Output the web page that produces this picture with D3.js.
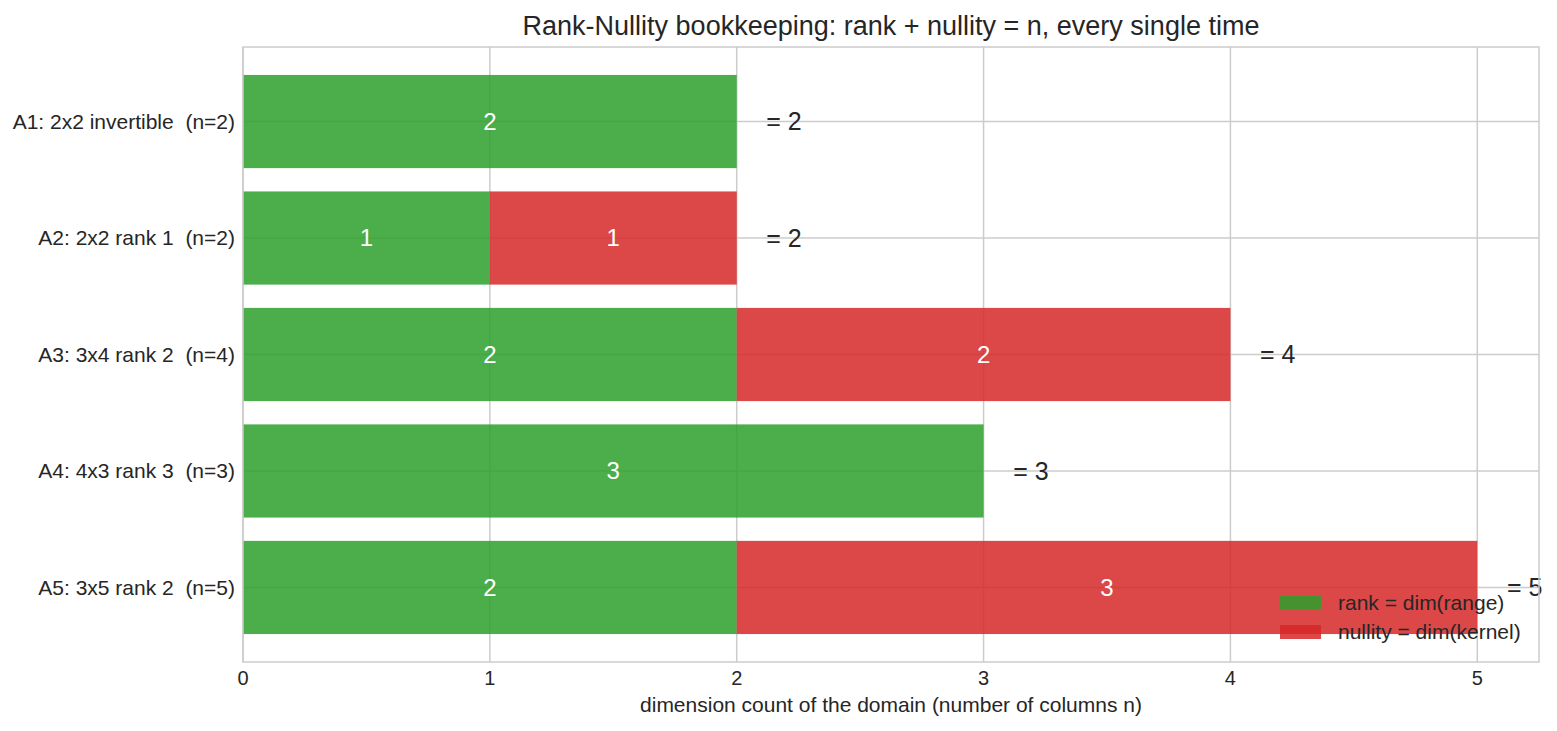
<!DOCTYPE html>
<html>
<head>
<meta charset="utf-8">
<script src="https://cdn.jsdelivr.net/npm/d3@7"></script>
<style>
	body { margin: 0; background: #fff; }
	text { font-family: "Liberation Sans", Arial, sans-serif; fill: #262626; white-space: pre; }
</style>
</head>
<body>
<div id="chart"></div>
<script>
// matrices, rank and nullity
const labels = ["A1: 2x2 invertible  (n=2)", "A2: 2x2 rank 1  (n=2)", "A3: 3x4 rank 2  (n=4)", "A4: 4x3 rank 3  (n=3)", "A5: 3x5 rank 2  (n=5)"];
const ranks = [2, 1, 2, 3, 2];
const nullities = [0, 1, 2, 0, 3];
const xTicks = [0, 1, 2, 3, 4, 5];
const legendNames = ["rank = dim(range)", "nullity = dim(kernel)"];

rankNullity();

function rankNullity() {
	const W = 1557, H = 731;
	const margin = {top: 47, right: 18, bottom: 69, left: 243},
		  width = W - margin.left - margin.right,
		  height = H - margin.top - margin.bottom;

	const green = "#2ca02c", red = "#d62728", grid = "#cccccc";

	const svg = d3.select("#chart")
				  .append("svg")
				  .attr("width", W)
				  .attr("height", H);

	const g = svg.append("g")
				 .attr("transform", `translate(${margin.left},${margin.top})`);

	const x = d3.scaleLinear()
				.domain([0, 5.25])
				.range([0, width]);

	// band scale mimicking matplotlib's barh with 0.8 height
	const yc = d3.scaleLinear()
				 .domain([-0.64, labels.length - 1 + 0.64])
				 .range([0, height]);
	const barH = yc(0.8) - yc(0);

	// grid
	g.append("g")
	 .selectAll("line")
	 .data(xTicks)
	 .enter()
	 .append("line")
	 .attr("x1", d => x(d)).attr("x2", d => x(d))
	 .attr("y1", 0).attr("y2", height)
	 .attr("stroke", grid).attr("stroke-width", 1.5);

	g.append("g")
	 .selectAll("line")
	 .data(labels)
	 .enter()
	 .append("line")
	 .attr("x1", 0).attr("x2", width)
	 .attr("y1", (d, i) => yc(i)).attr("y2", (d, i) => yc(i))
	 .attr("stroke", grid).attr("stroke-width", 1.5);

	// bars
	const rows = labels.map((l, i) => ({label: l, rank: ranks[i], nullity: nullities[i], i: i}));

	g.append("g")
	 .selectAll("rect")
	 .data(rows)
	 .enter()
	 .append("rect")
	 .attr("x", x(0))
	 .attr("y", d => yc(d.i) - barH / 2)
	 .attr("width", d => x(d.rank) - x(0))
	 .attr("height", barH)
	 .attr("fill", green)
	 .attr("fill-opacity", 0.85);

	g.append("g")
	 .selectAll("rect")
	 .data(rows.filter(d => d.nullity > 0))
	 .enter()
	 .append("rect")
	 .attr("x", d => x(d.rank))
	 .attr("y", d => yc(d.i) - barH / 2)
	 .attr("width", d => x(d.rank + d.nullity) - x(d.rank))
	 .attr("height", barH)
	 .attr("fill", red)
	 .attr("fill-opacity", 0.85);

	// numbers inside the bars
	g.append("g")
	 .selectAll("text")
	 .data(rows)
	 .enter()
	 .append("text")
	 .attr("x", d => x(d.rank / 2))
	 .attr("y", d => yc(d.i))
	 .attr("dy", "0.35em")
	 .attr("text-anchor", "middle")
	 .style("font-size", "24px")
	 .style("fill", "#fff")
	 .text(d => d.rank);

	g.append("g")
	 .selectAll("text")
	 .data(rows.filter(d => d.nullity > 0))
	 .enter()
	 .append("text")
	 .attr("x", d => x(d.rank + d.nullity / 2))
	 .attr("y", d => yc(d.i))
	 .attr("dy", "0.35em")
	 .attr("text-anchor", "middle")
	 .style("font-size", "24px")
	 .style("fill", "#fff")
	 .text(d => d.nullity);

	// totals
	g.append("g")
	 .selectAll("text")
	 .data(rows)
	 .enter()
	 .append("text")
	 .attr("x", d => x(d.rank + d.nullity + 0.12))
	 .attr("y", d => yc(d.i))
	 .attr("dy", "0.35em")
	 .style("font-size", "25px")
	 .text(d => "= " + (d.rank + d.nullity));

	// frame
	g.append("rect")
	 .attr("width", width).attr("height", height)
	 .attr("fill", "none")
	 .attr("stroke", grid).attr("stroke-width", 1.5);

	// y labels
	g.append("g")
	 .selectAll("text")
	 .data(rows)
	 .enter()
	 .append("text")
	 .attr("x", -8)
	 .attr("y", d => yc(d.i))
	 .attr("dy", "0.35em")
	 .attr("text-anchor", "end")
	 .style("font-size", "21px")
	 .text(d => d.label);

	// x tick labels
	g.append("g")
	 .selectAll("text")
	 .data(xTicks)
	 .enter()
	 .append("text")
	 .attr("x", d => x(d))
	 .attr("y", height + 23)
	 .attr("text-anchor", "middle")
	 .style("font-size", "20px")
	 .text(d => d);

	// x label
	g.append("text")
	 .attr("x", width / 2)
	 .attr("y", height + 50)
	 .attr("text-anchor", "middle")
	 .style("font-size", "21px")
	 .text("dimension count of the domain (number of columns n)");

	// title
	g.append("text")
	 .attr("x", width / 2)
	 .attr("y", -12)
	 .attr("text-anchor", "middle")
	 .style("font-size", "27px")
	 .text("Rank-Nullity bookkeeping: rank + nullity = n, every single time");

	// legend
	const legend = g.append("g")
					.attr("transform", `translate(${1280 - margin.left},${596 - margin.top})`);
	legend.selectAll("rect")
		  .data(legendNames)
		  .enter()
		  .append("rect")
		  .attr("x", 0)
		  .attr("y", (d, i) => i * 29)
		  .attr("width", 41)
		  .attr("height", 14)
		  .attr("fill", (d, i) => i === 0 ? green : red)
		  .attr("fill-opacity", 0.85);
	legend.selectAll("text")
		  .data(legendNames)
		  .enter()
		  .append("text")
		  .attr("x", 58)
		  .attr("y", (d, i) => i * 29 + 7)
		  .attr("dy", "0.35em")
		  .style("font-size", "21px")
		  .text(d => d);
}
</script>
</body>
</html>
